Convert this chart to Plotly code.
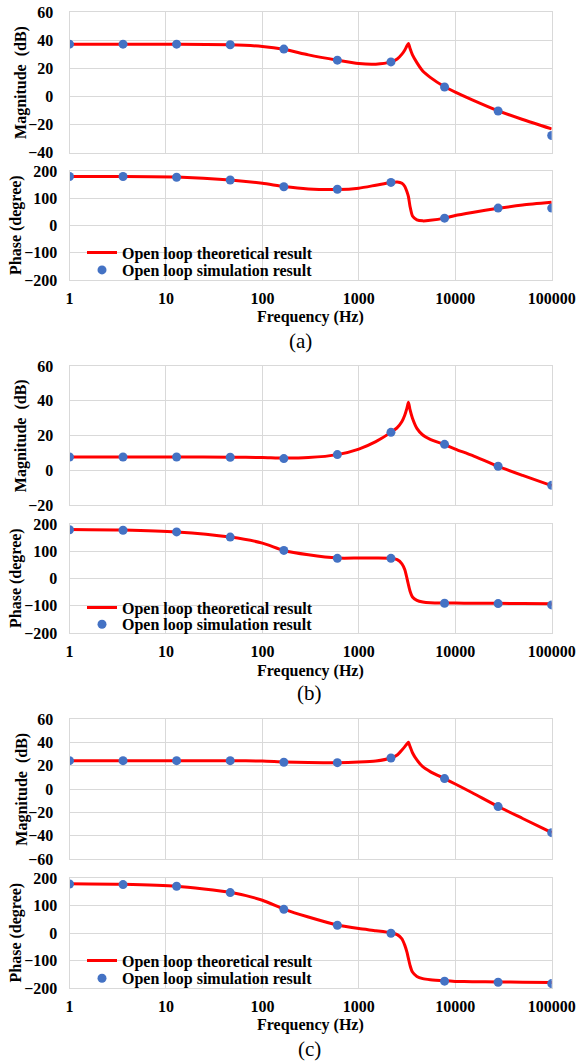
import plotly.graph_objects as go

# ---------------- data ----------------
freq_theory = [1, 3.59, 12.9, 46.4, 100, 167, 300, 599, 1000, 1500, 2154, 2500, 2800, 3000, 3150,
               3270, 3400, 3600, 4000, 4600, 5500, 7743, 10000, 15000, 27826, 50000, 100000]
freq_sim = [1, 3.59, 12.9, 46.4, 167, 599, 2154, 7743, 27826, 100000]

a_mag_theory = [37, 37, 37, 36.7, 35.5, 33.5, 29.5, 25.7, 23.3, 22.9, 24.5, 26.5, 30, 33, 35.8,
                37.6, 34, 29.5, 24, 18, 13.5, 6.8, 3, -2.5, -10.3, -16.5, -23.2]
a_mag_sim = [37.1, 37.1, 37.1, 36.7, 33.6, 25.7, 24.5, 6.6, -10.5, -27.9]
a_ph_theory = [180, 180, 178, 167, 155, 143, 134, 132, 137, 148, 158, 160, 155, 143, 125,
               106, 69, 35, 21, 17, 19, 27, 37, 48, 63, 75, 85]
a_ph_sim = [180, 180, 177, 167, 142, 133, 158, 27, 64, 64]

b_mag_theory = [7.6, 7.6, 7.6, 7.5, 7.3, 7.0, 7.3, 9.0, 12.2, 16.5, 21.8, 24.5, 28, 31.8, 35.6,
                39.1, 34.7, 29.9, 24.1, 20.3, 17.8, 14.7, 12.2, 8.5, 2.2, -3, -8.9]
b_mag_sim = [7.6, 7.6, 7.6, 7.5, 6.7, 9.0, 21.8, 14.9, 2.3, -8.7]
b_ph_theory = [180, 178, 171, 152, 130, 103, 87, 75, 75, 75, 74, 69, 54, 32, 2,
               -23, -47, -68, -80, -86, -89, -90, -90, -91, -91, -92, -93]
b_ph_sim = [179, 177, 171, 152, 103, 74, 74, -91, -92, -97]

c_mag_theory = [24.3, 24.3, 24.3, 24.3, 24, 23.2, 22.8, 22.6, 23.1, 24, 26.6, 29.1, 33.4, 36.3, 38.6,
                40, 36.3, 31.1, 24.9, 19.1, 14.9, 8.9, 4.3, -3.2, -15, -25.3, -37.4]
c_mag_sim = [24.3, 24.3, 24.3, 24.3, 22.9, 22.6, 26.6, 8.9, -15.1, -37.4]
c_ph_theory = [179, 177, 170, 148, 119, 87, 58, 29, 16, 8.5, 1, -6, -21, -45, -69,
               -93, -118, -142, -158, -166, -170, -174, -176, -177, -178, -179, -180]
c_ph_sim = [178, 176, 170, 147, 86, 28, -1, -175, -179, -184]

tick_freqs = [1, 10, 100, 1000, 10000, 100000]
tick_labels = ["1", "10", "100", "1000", "10000", "100000"]
mag_ranges = [[-40, 60], [-20, 60], [-60, 60]]
phase_range = [-200, 200]
panel_labels = ["(a)", "(b)", "(c)"]
name_theory = "Open loop theoretical result"
name_sim = "Open loop simulation result"

# ---------------- layout helpers ----------------
W, H = 576, 1064
x_dom = [69.5 / W, 551.7 / W]
mag_pix = [(12, 152.5), (366, 505), (719, 859)]
ph_pix = [(171, 280), (524, 633), (878, 988)]
legend_rows = [(252.7, 270), (607.7, 624.3), (960.7, 978.3)]
freq_title_y = [317, 671, 1025]
label_pos = [(300, 341), (309, 693), (309, 1049)]


def dom(t, b):
    return [1 - b / H, 1 - t / H]


RED = "#FF0000"
BLUE = "#4472C4"
GRID = "#d9d9d9"
FONT = "Liberation Serif"
bold16 = dict(family=FONT, size=16, color="black", weight="bold")

panels = [
    (a_mag_theory, a_mag_sim, a_ph_theory, a_ph_sim),
    (b_mag_theory, b_mag_sim, b_ph_theory, b_ph_sim),
    (c_mag_theory, c_mag_sim, c_ph_theory, c_ph_sim),
]

fig = go.Figure()
layout = dict(
    width=W, height=H,
    margin=dict(l=0, r=0, t=0, b=0),
    paper_bgcolor="white", plot_bgcolor="white",
    font=bold16,
    annotations=[],
)

for i, (mt, ms, pt, ps) in enumerate(panels):
    nm = 2 * i + 1
    nphase = 2 * i + 2
    lg1 = "legend" if i == 0 else f"legend{2 * i + 1}"
    lg2 = f"legend{2 * i + 2}"
    sm = "" if nm == 1 else str(nm)
    sp = str(nphase)

    fig.add_trace(go.Scatter(x=freq_theory, y=mt, mode="lines", line=dict(color=RED, width=3, shape="spline", smoothing=0.6),
                             xaxis="x" + sm, yaxis="y" + sm, showlegend=False, hoverinfo="skip"))
    fig.add_trace(go.Scatter(x=freq_sim, y=ms, mode="markers", marker=dict(color=BLUE, size=9),
                             xaxis="x" + sm, yaxis="y" + sm, showlegend=False))
    fig.add_trace(go.Scatter(x=freq_theory, y=pt, mode="lines", line=dict(color=RED, width=3, shape="spline", smoothing=0.6),
                             xaxis="x" + sp, yaxis="y" + sp, name=name_theory, legend=lg1, showlegend=True))
    fig.add_trace(go.Scatter(x=freq_sim, y=ps, mode="markers", marker=dict(color=BLUE, size=9),
                             xaxis="x" + sp, yaxis="y" + sp, name=name_sim, legend=lg2, showlegend=True))

    common_x = dict(type="log", range=[0, 5], domain=x_dom, tickvals=tick_freqs, ticktext=tick_labels,
                    showgrid=True, gridcolor=GRID, gridwidth=1, showline=True, mirror=True, linecolor=GRID,
                    zeroline=False, ticks="", tickfont=bold16, automargin=False)
    common_y = dict(showgrid=True, gridcolor=GRID, gridwidth=1, showline=True, mirror=True, linecolor=GRID,
                    zeroline=False, ticks="", tickfont=bold16, automargin=False)

    layout["xaxis" + sm] = dict(common_x, anchor="y" + sm, showticklabels=False)
    layout["yaxis" + sm] = dict(common_y, anchor="x" + sm, domain=dom(*mag_pix[i]),
                                range=mag_ranges[i], dtick=20, ticklabelstandoff=12)
    layout["xaxis" + sp] = dict(common_x, anchor="y" + sp, showticklabels=True, ticklabelstandoff=4)
    layout["yaxis" + sp] = dict(common_y, anchor="x" + sp, domain=dom(*ph_pix[i]),
                                range=phase_range, dtick=100, ticklabelstandoff=8)

    r1, r2 = legend_rows[i]
    for lg, ry in ((lg1, r1), (lg2, r2)):
        layout[lg] = dict(x=82 / W, y=1 - ry / H, xanchor="left", yanchor="middle",
                          bgcolor="rgba(0,0,0,0)", borderwidth=0, font=bold16)

    # axis titles
    layout["annotations"].append(dict(text="Magnitude\u00a0 (dB)", xref="paper", yref="paper",
                                      x=21.7 / W, y=1 - (mag_pix[i][0] + mag_pix[i][1]) / 2 / H,
                                      xanchor="center", yanchor="middle", textangle=-90,
                                      showarrow=False, font=bold16))
    layout["annotations"].append(dict(text="Phase (degree)", xref="paper", yref="paper",
                                      x=15.5 / W, y=1 - (ph_pix[i][0] + ph_pix[i][1]) / 2 / H,
                                      xanchor="center", yanchor="middle", textangle=-90,
                                      showarrow=False, font=bold16))
    layout["annotations"].append(dict(text="Frequency (Hz)", xref="paper", yref="paper",
                                      x=(x_dom[0] + x_dom[1]) / 2, y=1 - freq_title_y[i] / H,
                                      xanchor="center", yanchor="middle",
                                      showarrow=False, font=bold16))
    lx, ly = label_pos[i]
    layout["annotations"].append(dict(text=panel_labels[i], xref="paper", yref="paper",
                                      x=lx / W, y=1 - ly / H, xanchor="center", yanchor="middle",
                                      showarrow=False, borderpad=0,
                                      font=dict(family=FONT, size=21, color="black", weight="normal")))

fig.update_layout(**layout)
fig.write_html("out.html")
